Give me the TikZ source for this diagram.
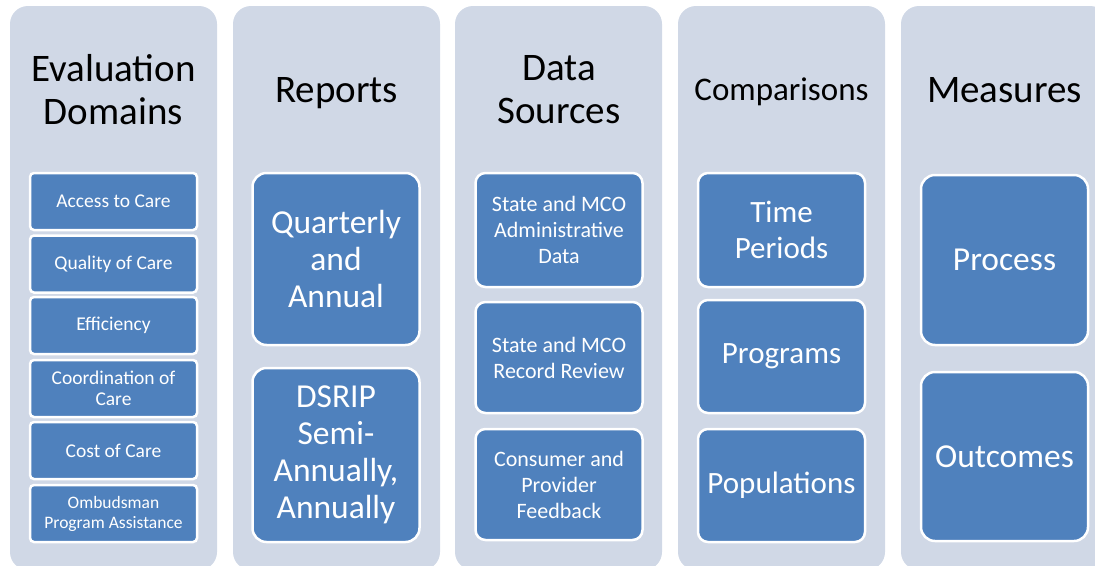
\documentclass[tikz,border=0pt]{standalone}
\usepackage{fontspec}
\setmainfont{Carlito}

\definecolor{colbg}{HTML}{D0D8E6}
\definecolor{boxblue}{HTML}{4F81BD}

\begin{document}
\begin{tikzpicture}[x=1pt,y=-1pt,
    column/.style={fill=colbg,rounded corners=18pt},
    title/.style={align=center,text=black,inner sep=0pt,font=\fontsize{39}{43}\selectfont},
    item/.style={fill=boxblue,draw=white,line width=2.5pt,text=white,align=center,inner sep=2pt,minimum width=167pt},
    small/.style={item,rounded corners=4pt,minimum height=57pt,font=\fontsize{19.5}{21}\selectfont},
    big/.style={item,rounded corners=14pt,font=\fontsize{33.5}{37}\selectfont},
    mid/.style={item,rounded corners=10pt,font=\fontsize{22}{26}\selectfont}]
			\useasboundingbox (0,0) rectangle (1095,565);
			
			% the five columns
			\foreach \x in {10,233,455,678,901}
			\fill[column] (\x,6) rectangle ++(207,564);
			
			% titles
			\node[title] (domains) at (113.5,89.5) {Evaluation\\Domains};
			\node[title] (reports) at (336.5,93) {Reports};
			\node[title] (sources) at (559,89.5) {Data\\Sources};
			\node[title,font=\fontsize{33}{37}\selectfont] (comparisons) at (781.5,92) {Comparisons};
			\node[title] (measures) at (1004.5,90) {Measures};
			
			% evaluation domains
			\node[small] (access) at (113.5,201.5) {Access to Care};
			\node[small] (quality) at (113.5,264) {Quality of Care};
			\node[small] (efficiency) at (113.5,325.5) {Efficiency};
			\node[small] (coordination) at (113.5,388.5) {Coordination of\\Care};
			\node[small] (cost) at (113.5,450.5) {Cost of Care};
			\node[small,font=\fontsize{17.5}{20}\selectfont] (ombudsman) at (113.5,513.5) {Ombudsman\\Program Assistance};
			
			% reports
			\node[big,minimum height=172pt] (quarterly) at (336,259) {Quarterly\\and\\Annual};
			\node[big,minimum height=174pt] (dsrip) at (336,455) {DSRIP\\Semi-\\Annually,\\Annually};
			
			% data sources
			\node[mid,minimum height=114pt] (admin) at (559,230) {State and MCO\\Administrative\\Data};
			\node[mid,minimum height=111pt] (record) at (559,357.5) {State and MCO\\Record Review};
			\node[mid,minimum height=111pt] (feedback) at (559,484.5) {Consumer and\\Provider\\Feedback};
			
			% comparisons
			\node[mid,minimum height=114pt,font=\fontsize{31}{36}\selectfont] (periods) at (781.5,230) {Time\\Periods};
			\node[mid,minimum height=113pt,font=\fontsize{31}{36}\selectfont] (programs) at (781.5,356.5) {Programs};
			\node[mid,minimum height=113pt,font=\fontsize{31}{36}\selectfont] (populations) at (781.5,485.5) {Populations};
			
			% measures
			\node[big,minimum height=170pt] (process) at (1004.5,260) {Process};
			\node[big,minimum height=169pt] (outcomes) at (1004.5,456.5) {Outcomes};
\end{tikzpicture}
\end{document}
